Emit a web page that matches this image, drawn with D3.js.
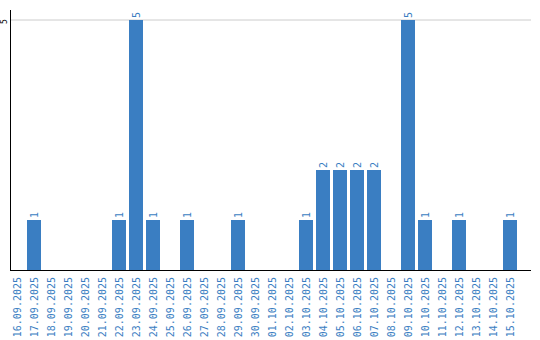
<!DOCTYPE html>
<html>
<head>
<meta charset="utf-8">
<script src="https://cdn.jsdelivr.net/npm/d3@7"></script>
<style>
  body { margin: 0; background: #fff; }
  svg { display: block; font-family: "DejaVu Sans Mono", monospace; }
</style>
</head>
<body>
<svg width="540" height="340"></svg>
<script>
var dates = ["16.09.2025","17.09.2025","18.09.2025","19.09.2025","20.09.2025","21.09.2025",
  "22.09.2025","23.09.2025","24.09.2025","25.09.2025","26.09.2025","27.09.2025","28.09.2025",
  "29.09.2025","30.09.2025","01.10.2025","02.10.2025","03.10.2025","04.10.2025","05.10.2025",
  "06.10.2025","07.10.2025","08.10.2025","09.10.2025","10.10.2025","11.10.2025","12.10.2025",
  "13.10.2025","14.10.2025","15.10.2025"];
var counts = [0,1,0,0,0,0,1,5,1,0,1,0,0,1,0,0,0,1,2,2,2,2,0,5,1,0,1,0,0,1];
var yTicks = [5];

var blue = "#3a7ec2";
var svg = d3.select("svg");

var x = d3.scaleBand().domain(dates).range([10, 517]).paddingInner(3 / 17).paddingOuter(0);
var y = d3.scaleLinear().domain([0, 5]).range([270, 20]);

// gridline
svg.selectAll("line.grid")
  .data(yTicks)
  .enter()
  .append("line")
  .attr("class", "grid")
  .attr("x1", 10).attr("x2", 531)
  .attr("y1", d => y(d)).attr("y2", d => y(d))
  .attr("stroke", "#cccccc");

// y tick labels
svg.selectAll("text.ytick")
  .data(yTicks)
  .enter()
  .append("text")
  .attr("class", "ytick")
  .attr("transform", d => `translate(7,${y(d) + 1.5}) rotate(-90)`)
  .attr("text-anchor", "middle")
  .attr("font-size", 8)
  .attr("fill", "#000")
  .text(d => d);

var data = dates.map((d, i) => ({ date: d, value: counts[i] }));

// bars
svg.selectAll("rect.bar")
  .data(data.filter(d => d.value > 0))
  .enter()
  .append("rect")
  .attr("class", "bar")
  .attr("x", d => x(d.date))
  .attr("y", d => y(d.value))
  .attr("width", x.bandwidth())
  .attr("height", d => y(0) - y(d.value))
  .attr("fill", blue);

// value labels
svg.selectAll("text.val")
  .data(data.filter(d => d.value > 0))
  .enter()
  .append("text")
  .attr("class", "val")
  .attr("transform", d => `translate(${x(d.date) + x.bandwidth() / 2 + 4},${y(d.value) - 2}) rotate(-90)`)
  .attr("font-size", 10)
  .attr("fill", blue)
  .text(d => d.value);

// axes lines
svg.append("line")
  .attr("x1", 10.5).attr("x2", 10.5).attr("y1", 10).attr("y2", 270)
  .attr("stroke", "#000");
svg.append("line")
  .attr("x1", 10).attr("x2", 531).attr("y1", 270.5).attr("y2", 270.5)
  .attr("stroke", "#000");

// x labels
svg.selectAll("text.xlab")
  .data(dates)
  .enter()
  .append("text")
  .attr("class", "xlab")
  .attr("transform", d => `translate(${x(d) + x.bandwidth() / 2 + 4},277) rotate(-90)`)
  .attr("text-anchor", "end")
  .attr("font-size", 10)
  .attr("fill", blue)
  .text(d => d);
</script>
</body>
</html>
